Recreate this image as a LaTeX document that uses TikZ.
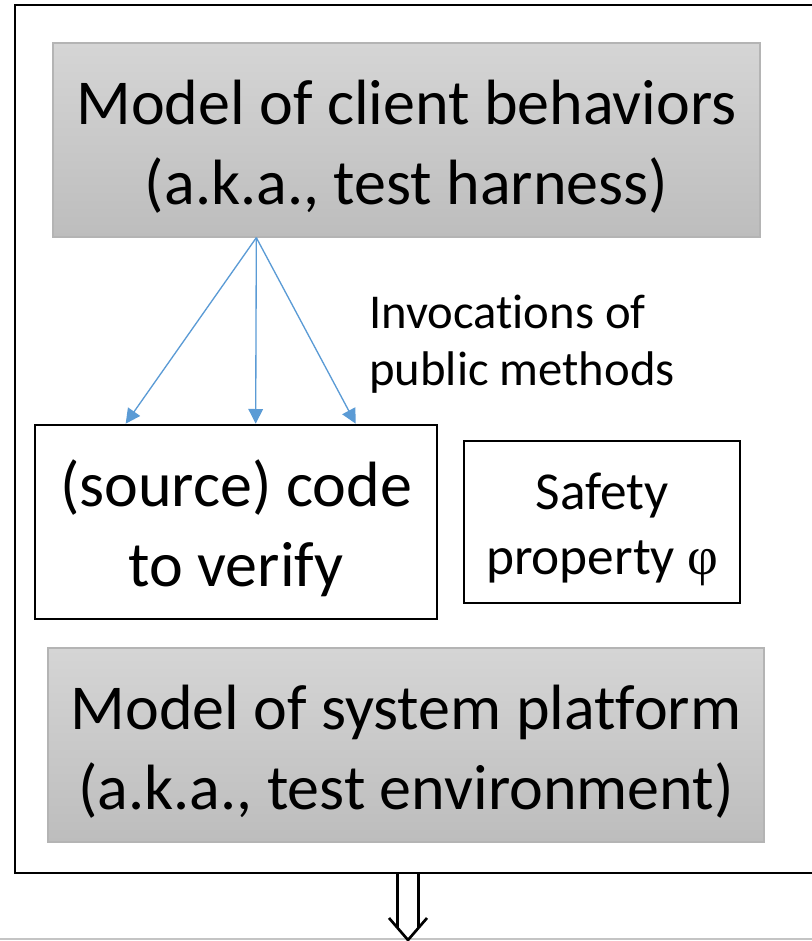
\documentclass[tikz,border=0pt]{standalone}
\usepackage{fontspec}
\setmainfont{Carlito}[Ligatures={NoCommon}]
\newfontfamily\greekfont{Liberation Serif}
\usetikzlibrary{arrows.meta,calc}

\definecolor{boxtop}{HTML}{D5D5D5}
\definecolor{boxbot}{HTML}{BDBDBD}
\definecolor{boxedge}{HTML}{B4B4B4}
\definecolor{callblue}{HTML}{5B9BD5}
\definecolor{rulegray}{HTML}{C4C4C4}

% invisible strut that gives the first line of a box some extra head room
\newcommand{\headroom}[1]{\rule{0pt}{#1}}

\tikzset{
  modelbox/.style={draw=boxedge, line width=1pt, top color=boxtop, bottom color=boxbot,
    inner sep=0pt, align=center, font=\fontsize{48}{60}\selectfont},
  plainbox/.style={draw=black, line width=2pt, fill=white, inner sep=0pt, align=center},
  call/.style={draw=callblue, line width=1pt, -{Triangle[length=11pt,width=11pt]}},
}

\begin{document}
\begin{tikzpicture}[x=0.75pt, y=-0.75pt]
  \useasboundingbox (0,0) rectangle (812,941);
  \clip (0,0) rectangle (812,941);

  % outer frame (runs past the right edge)
  \draw[line width=2.2pt] (15,5) rectangle (840,873);
  % edge of the next stage below
  \draw[rulegray, line width=1.5pt] (0,939) -- (812,939);

  \node[modelbox, minimum width=530.25pt, minimum height=145.5pt] (harness) at (406.5,140)
    {\headroom{44pt}Model of client behaviors\\(a.k.a., test harness)};

  \node[plainbox, minimum width=301.5pt, minimum height=145.5pt,
        font=\fontsize{48}{60}\selectfont] (code) at (236,522)
    {\headroom{45pt}(source) code\\to verify};

  \node[plainbox, minimum width=207pt, minimum height=121.5pt,
        font=\fontsize{40}{48.75}\selectfont] (safety) at (602,522)
    {\headroom{38pt}Safety\\property {\greekfont φ}};

  \node[modelbox, minimum width=537pt, minimum height=145.5pt] (platform) at (406,745)
    {\headroom{44pt}Model of system platform\\(a.k.a., test environment)};

  \node[anchor=west, align=left, inner sep=0pt, font=\fontsize{36.5}{43}\selectfont] (calls) at (369,344)
    {Invocations of\\public methods};

  % calls from the harness into the code
  \coordinate (src) at ($(harness.south west)+(204,0)$);
  \draw[call] (src) -- ($(code.north west)+(92,0)$);
  \draw[call] (src) -- ($(code.north west)+(222,0)$);
  \draw[call] (src) -- ($(code.north west)+(322,0)$);

  % hollow double arrow down to the next stage
  \coordinate (tip) at (408,940);
  \coordinate (lshaft) at (397.5,873);
  \coordinate (rshaft) at (418.5,873);
  \draw[line width=2pt] (lshaft) -- (lshaft |- 0,928);
  \draw[line width=2pt] (rshaft) -- (rshaft |- 0,928);
  \draw[line width=2pt, line join=miter] ($(tip)+(-19,-22)$) -- (tip) -- ($(tip)+(19,-22)$);
\end{tikzpicture}
\end{document}
